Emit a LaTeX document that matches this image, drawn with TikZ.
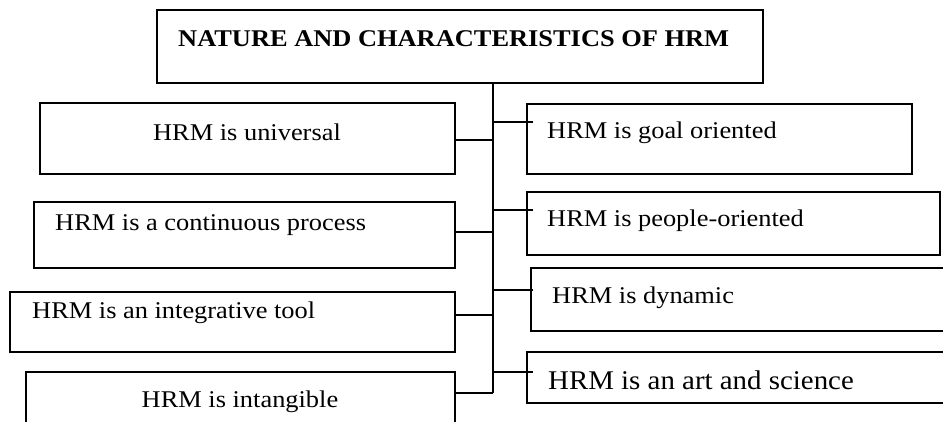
\documentclass[tikz,border=0pt]{standalone}
\usepackage{fontspec}
\setmainfont[FakeStretch=1.1]{Liberation Serif}
\newfontfamily\bigfont[FakeStretch=1.07]{Liberation Serif}
\begin{document}
\begin{tikzpicture}[x=1pt,y=-1pt,
  box/.style={draw, line width=1.5pt, inner sep=0pt, outer sep=0pt, anchor=north west},
  txt/.style={inner sep=0pt, font=\fontsize{24}{28}\selectfont},
  bigtxt/.style={inner sep=0pt, font=\bigfont\fontsize{27}{31}\selectfont},
  conn/.style={line width=1.6pt}]
\useasboundingbox (0,0) rectangle (943,421);
\clip (0,0) rectangle (943,421);
% boxes
\node[box, minimum width=606pt, minimum height=73pt] (title) at (157,10) {};
\node[box, minimum width=415pt, minimum height=71pt] (u)  at (40,103) {};
\node[box, minimum width=421pt, minimum height=66pt] (c)  at (34,202) {};
\node[box, minimum width=445pt, minimum height=60pt] (it) at (10,292) {};
\node[box, minimum width=429pt, minimum height=80pt] (ig) at (26,372) {};
\node[box, minimum width=385pt, minimum height=70pt] (g)  at (527,104) {};
\node[box, minimum width=413pt, minimum height=63pt] (p)  at (527,192) {};
\node[box, minimum width=440pt, minimum height=63pt] (d)  at (531,268) {};
\node[box, minimum width=440pt, minimum height=51pt] (a)  at (527,352) {};
% texts
\node[txt, anchor=base west, font=\fontsize{24}{28}\selectfont\bfseries] (ttitle) at (178,46) {NATURE AND CHARACTERISTICS OF HRM};
\node[txt, anchor=base] (tu) at (247,140) {HRM is universal};
\node[txt, anchor=base west] (tc) at (55,230) {HRM is a continuous process};
\node[txt, anchor=base west] (tit) at (32,318) {HRM is an integrative tool};
\node[txt, anchor=base] (tig) at (240,407) {HRM is intangible};
\node[txt, anchor=base west] (tg) at (547,138) {HRM is goal oriented};
\node[txt, anchor=base west] (tp) at (547,226) {HRM is people-oriented};
\node[txt, anchor=base west] (td) at (552,303) {HRM is dynamic};
\node[bigtxt, anchor=base west] (ta) at (548,389) {HRM is an art and science};
% trunk
\coordinate (top) at (493,83);
\coordinate (bot) at (493,393);
\draw[conn] (top) -- (bot);
% left connectors
\draw[conn] (u.east |- 0,140) -- (top |- 0,140);
\draw[conn] (c.east |- 0,232) -- (top |- 0,232);
\draw[conn] (it.east |- 0,315) -- (top |- 0,315);
\draw[conn] (ig.east |- 0,393) -- (bot);
% right connectors (stubs crossing box edges)
\coordinate (s1) at (533,122);
\coordinate (s2) at (533,210);
\coordinate (s3) at (533,290);
\coordinate (s4) at (533,372);
\draw[conn] (top |- s1) -- (s1);
\draw[conn] (top |- s2) -- (s2);
\draw[conn] (top |- s3) -- (s3);
\draw[conn] (top |- s4) -- (s4);
\end{tikzpicture}
\end{document}
